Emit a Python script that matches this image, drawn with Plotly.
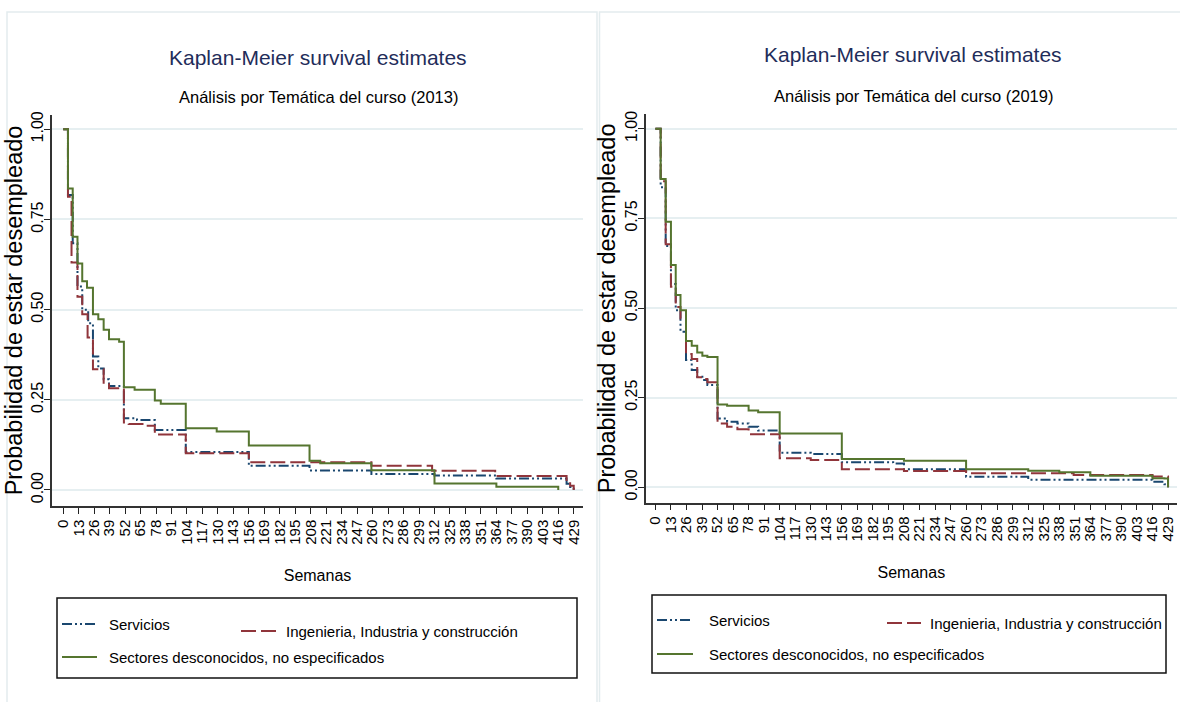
import plotly.graph_objects as go

# ---------------- data ----------------
weeks_ticks = list(range(0, 430, 13))
y_ticks = [0, 0.25, 0.5, 0.75, 1.0]
y_tick_text = ["0.00", "0.25", "0.50", "0.75", "1.00"]

series_names = ["Servicios", "Ingenieria, Industria y construcción",
                "Sectores desconocidos, no especificados"]

# 2013 panel
t13_serv = [0, 4, 8, 12, 16, 21, 25, 29.5, 34, 38.5, 51, 62, 77, 103, 156, 207, 259, 312, 364, 423, 426, 429]
s13_serv = [1.0, 0.818, 0.684, 0.564, 0.50, 0.462, 0.370, 0.337, 0.307, 0.288, 0.199, 0.194, 0.166, 0.105,
            0.067, 0.054, 0.044, 0.040, 0.032, 0.017, 0.008, 0.0]
t13_ing = [0, 4, 7, 12, 16, 20.5, 25, 34, 38.5, 51, 55, 69, 77, 103, 156, 259, 310, 363, 423, 426, 429]
s13_ing = [1.0, 0.813, 0.631, 0.536, 0.487, 0.423, 0.335, 0.294, 0.282, 0.187, 0.183, 0.178, 0.154, 0.102,
           0.077, 0.067, 0.053, 0.039, 0.023, 0.012, 0.0]
t13_sec = [0, 4, 8, 12, 16, 20, 25, 29.5, 34, 38.5, 47, 51, 60, 77, 82, 103, 129, 156, 207, 216, 259, 312, 364, 416]
s13_sec = [1.0, 0.836, 0.702, 0.628, 0.579, 0.561, 0.487, 0.473, 0.444, 0.418, 0.411, 0.285, 0.278, 0.248,
           0.239, 0.171, 0.162, 0.123, 0.081, 0.074, 0.055, 0.018, 0.009, 0.0]

# 2019 panel
t19_serv = [0, 4.4, 8.6, 13, 17, 21, 25.6, 30.4, 35, 39.3, 43.5, 52, 60, 68.6, 78, 86, 104, 130, 156, 199, 208,
            260, 312, 416, 426, 429]
s19_serv = [1.0, 0.837, 0.673, 0.567, 0.494, 0.434, 0.355, 0.327, 0.308, 0.299, 0.285, 0.192, 0.183, 0.178,
            0.169, 0.158, 0.096, 0.093, 0.070, 0.066, 0.050, 0.029, 0.021, 0.015, 0.008, 0.0]
t19_ing = [0, 4.4, 8.6, 13, 17, 21, 25.6, 30.4, 35, 39.3, 43.5, 52, 60, 68.6, 78, 104, 130, 156, 208, 260, 350,
           416, 429]
s19_ing = [1.0, 0.854, 0.678, 0.559, 0.503, 0.471, 0.372, 0.358, 0.307, 0.302, 0.293, 0.178, 0.169, 0.162,
           0.148, 0.081, 0.076, 0.050, 0.045, 0.039, 0.034, 0.030, 0.0]
t19_sec = [0, 4.4, 8.6, 13, 17, 21, 25.6, 30.4, 35, 39.3, 43.5, 52, 60, 78, 86, 104, 156, 208, 260, 312, 338,
           364, 416, 426, 429]
s19_sec = [1.0, 0.860, 0.741, 0.620, 0.536, 0.494, 0.408, 0.395, 0.376, 0.367, 0.363, 0.231, 0.227, 0.214,
           0.209, 0.150, 0.079, 0.074, 0.050, 0.046, 0.042, 0.032, 0.025, 0.024, 0.0]

titles = ["Kaplan-Meier survival estimates", "Kaplan-Meier survival estimates"]
subtitles = ["Análisis por Temática del curso (2013)", "Análisis por Temática del curso (2019)"]
x_title = "Semanas"
y_title = "Probabilidad de estar desempleado"

# ---------------- styling ----------------
W, H = 1180, 702
COLORS = ["#1a476f", "#90353b", "#55752f"]
DASHES = ["10px,3px,2px,3px,2px,3px", "15px,5px", "solid"]
FONT = "Liberation Sans, Arial, sans-serif"
GRID = "#e6eff1"


def px(x):
    return x / W


def py(y):
    return 1 - y / H


fig = go.Figure()

panels = [
    dict(data=[(t13_serv, s13_serv), (t13_ing, s13_ing), (t13_sec, s13_sec)],
         xd=[52, 583], yd=[506, 115], xr=[-9.41, 436.8], yr=[-0.0444, 1.0396], xa="x", ya="y"),
    dict(data=[(t19_serv, s19_serv), (t19_ing, s19_ing), (t19_sec, s19_sec)],
         xd=[645.7, 1177], yd=[502.7, 114], xr=[-8.12, 436.5], yr=[-0.0432, 1.0413], xa="x2", ya="y2"),
]

for i, p in enumerate(panels):
    for k, (t, s) in enumerate(p["data"]):
        fig.add_trace(go.Scatter(x=t, y=s, mode="lines", line_shape="hv", name=series_names[k],
                                 line=dict(color=COLORS[k], width=2, dash=DASHES[k]),
                                 xaxis=p["xa"], yaxis=p["ya"], showlegend=False))
    sfx = "" if i == 0 else str(i + 1)
    fig.layout["xaxis" + sfx] = dict(
        domain=[px(p["xd"][0]), px(p["xd"][1])], range=p["xr"], anchor="y" + sfx,
        tickmode="array", tickvals=weeks_ticks, ticktext=[str(v) for v in weeks_ticks],
        tickangle=-90, ticks="outside", ticklen=6, tickcolor="#222", tickwidth=1,
        showline=True, linecolor="#333", linewidth=1.5, showgrid=False, zeroline=False,
        tickfont=dict(family=FONT, size=15, color="#000"),
        title=dict(text=x_title, font=dict(family=FONT, size=16, color="#000"), standoff=26),
        automargin=False)
    fig.layout["yaxis" + sfx] = dict(
        domain=[py(p["yd"][0]), py(p["yd"][1])], range=p["yr"], anchor="x" + sfx,
        tickmode="array", tickvals=y_ticks, ticktext=y_tick_text,
        tickangle=-90, ticks="outside", ticklen=6, tickcolor="#222", tickwidth=1,
        ticklabelstandoff=-5,
        showline=True, linecolor="#333", linewidth=1.5, showgrid=True, gridcolor=GRID, gridwidth=1.5,
        zeroline=False, tickfont=dict(family=FONT, size=16, color="#000"),
        title=dict(text=y_title, font=dict(family=FONT, size=23.5, color="#000"), standoff=0),
        automargin=False)

shapes = []
annotations = []

# panel frames
shapes.append(dict(type="rect", xref="paper", yref="paper", x0=px(7), x1=px(597), y0=-0.02, y1=py(12),
                   line=dict(color="#e3ecee", width=1.5), fillcolor="rgba(0,0,0,0)", layer="below"))
shapes.append(dict(type="rect", xref="paper", yref="paper", x0=px(599.5), x1=1.02, y0=-0.02, y1=py(12),
                   line=dict(color="#e3ecee", width=1.5), fillcolor="rgba(0,0,0,0)", layer="below"))

# titles
for cx, ty, sy, i in [(318, 57, 97, 0), (913, 55, 96, 1)]:
    annotations.append(dict(x=px(cx), y=py(ty), xref="paper", yref="paper", text=titles[i], showarrow=False,
                            font=dict(family=FONT, size=21, color="#1f2d5a"), xanchor="center", yanchor="middle"))
    annotations.append(dict(x=px(cx), y=py(sy), xref="paper", yref="paper", text=subtitles[i], showarrow=False,
                            font=dict(family=FONT, size=16.5, color="#000"), xanchor="center", yanchor="middle"))

# legends (drawn manually to reproduce the Stata layout)
legends = [
    dict(box=(57, 598, 577, 678),
         items=[((62, 97, 624), (107, 624)), ((241, 277, 631), (284, 631)), ((62, 97, 657), (107, 657))]),
    dict(box=(652, 595, 1166, 673),
         items=[((657, 693, 620), (707, 620)), ((887, 921, 623), (928, 623)), ((657, 693, 654), (707, 654))]),
]
for lg in legends:
    x0, y0, x1, y1 = lg["box"]
    shapes.append(dict(type="rect", xref="paper", yref="paper", x0=px(x0), x1=px(x1), y0=py(y1), y1=py(y0),
                       line=dict(color="#111", width=1.5), fillcolor="white"))
    for k, ((lx0, lx1, ly), (tx, ty)) in enumerate(lg["items"]):
        shapes.append(dict(type="line", xref="paper", yref="paper", x0=px(lx0), x1=px(lx1), y0=py(ly), y1=py(ly),
                           line=dict(color=COLORS[k], width=2, dash=DASHES[k])))
        annotations.append(dict(x=px(tx), y=py(ty), xref="paper", yref="paper", text=series_names[k],
                                showarrow=False, xanchor="left", yanchor="middle",
                                font=dict(family=FONT, size=15, color="#000")))

fig.update_layout(width=W, height=H, margin=dict(l=0, r=0, t=0, b=0), paper_bgcolor="white",
                  plot_bgcolor="white", shapes=shapes, annotations=annotations, showlegend=False)

fig.write_html("out.html", config={"displayModeBar": False},
               post_script="document.body.style.margin='0';document.body.style.padding='0';"
                           "document.body.style.overflow='hidden';")
